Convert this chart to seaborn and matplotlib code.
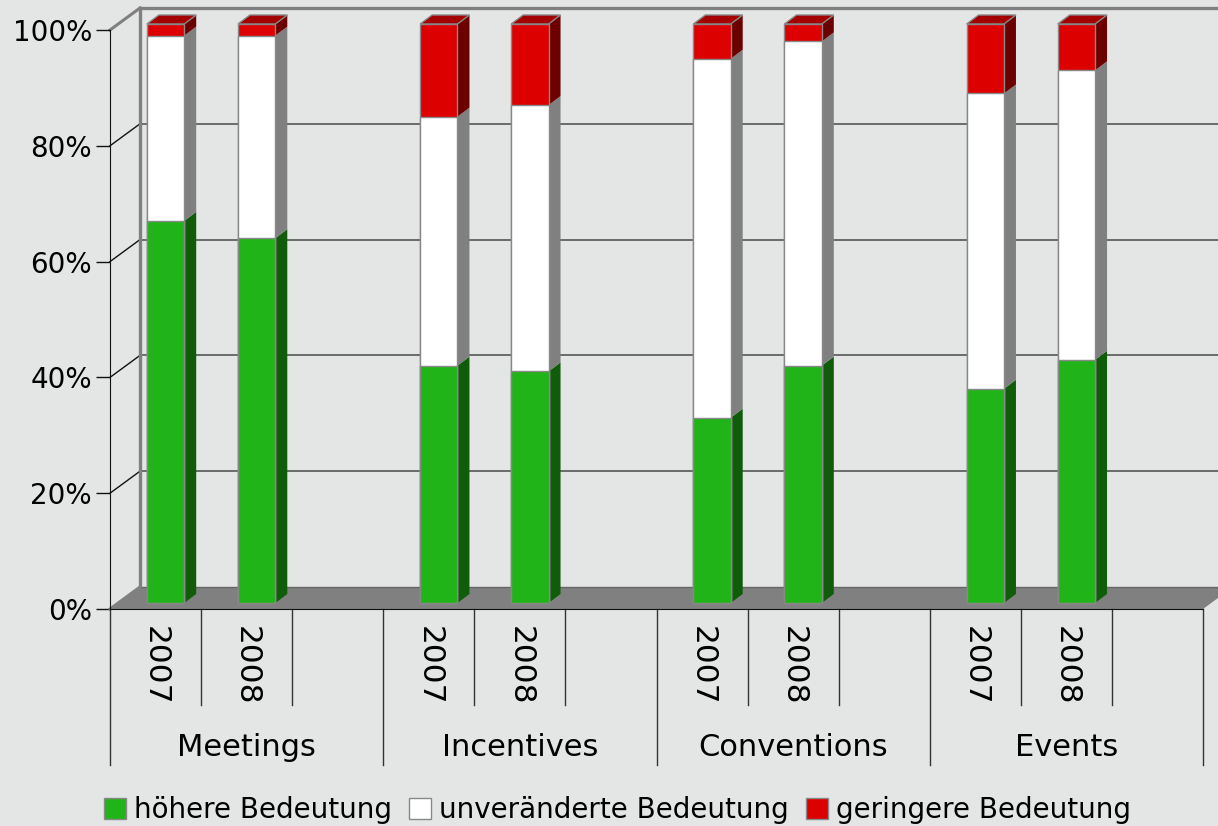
import matplotlib
matplotlib.use("Agg")
import matplotlib.pyplot as plt
from matplotlib.patches import Patch, Polygon
import seaborn as sns
import pandas as pd

# ---- data ----
categories = ["Meetings", "Incentives", "Conventions", "Events"]
years = ["2007", "2008"]
series_names = ["höhere Bedeutung", "unveränderte Bedeutung", "geringere Bedeutung"]
hoehere = [66, 63, 41, 40, 32, 41, 37, 42]
unveraendert = [32, 35, 43, 46, 62, 56, 51, 50]
geringere = [2, 2, 16, 14, 6, 3, 12, 8]
y_ticks = [0, 20, 40, 60, 80, 100]
y_labels = ["0%", "20%", "40%", "60%", "80%", "100%"]

front_colors = {"höhere Bedeutung": "#20b418", "unveränderte Bedeutung": "#ffffff",
                "geringere Bedeutung": "#dd0000"}
side_colors = ["#105c0b", "#808080", "#6c0000"]
top_color = "#a30000"
BG = "#e4e6e5"

plt.rcParams["font.family"] = ["DejaVu Sans"]

W, H = 1218, 826
fig = plt.figure(figsize=(W / 100, H / 100), dpi=100, facecolor=BG)
ax_l, ax_r, ax_t, ax_b = 110, 1203, 30, 609
ax = fig.add_axes([ax_l / W, (H - ax_b) / H, (ax_r - ax_l) / W, (ax_b - ax_t) / H])
ax.set_facecolor(BG)

# slots: 3 per category (third empty)
slots = []
for c in categories:
    slots += [f"{c}|2007", f"{c}|2008", f"{c}|gap"]

rows = []
bars = []
i = 0
for c in categories:
    for y in years:
        g, w, r = hoehere[i], unveraendert[i], geringere[i]
        slot = f"{c}|{y}"
        rows.append((slot, "geringere Bedeutung", g + w + r))
        rows.append((slot, "unveränderte Bedeutung", g + w))
        rows.append((slot, "höhere Bedeutung", g))
        bars.append((slots.index(slot), y, [0, g, g + w, g + w + r]))
        i += 1
df = pd.DataFrame(rows, columns=["slot", "series", "cum"])

BW = 0.41
sns.barplot(data=df, x="slot", y="cum", hue="series",
            hue_order=["geringere Bedeutung", "unveränderte Bedeutung", "höhere Bedeutung"],
            order=slots, palette=front_colors, dodge=False, width=BW, saturation=1,
            edgecolor="#888888", linewidth=1, legend=False, ax=ax)

ax.set_xlim(-0.5, 11.5)
ax.set_ylim(0, 100)
px_x = (ax_r - ax_l) / 12.0
px_y = (ax_b - ax_t) / 100.0

def dx(p):
    return p / px_x

def dy(p):
    return p / px_y

# bar front shift (bars sit inside the depth)
bx, by = dx(10), dy(6)
for p in ax.patches:
    p.set_x(p.get_x() + bx)
    p.set_y(p.get_y() + by)
    p.set_clip_on(False)
    p.set_zorder(6)

# 3D sides / tops of bars
sdx, sdy = dx(12), dy(9)
for pos, yr, cum in bars:
    xl = pos - BW / 2 + bx
    xr = pos + BW / 2 + bx
    for k in range(3):
        lo, hi = cum[k] + by, cum[k + 1] + by
        if hi - lo <= 0:
            continue
        ax.add_patch(Polygon([(xr, lo), (xr + sdx, lo + sdy), (xr + sdx, hi + sdy), (xr, hi)],
                             closed=True, facecolor=side_colors[k], edgecolor="none",
                             clip_on=False, zorder=5))
    top = cum[3] + by
    ax.add_patch(Polygon([(xl, top), (xr, top), (xr + sdx, top + sdy), (xl + sdx, top + sdy)],
                         closed=True, facecolor=top_color, edgecolor="#888888", lw=1,
                         clip_on=False, zorder=5))

# walls / floor
wx, wy = dx(30), dy(22)
ax.add_patch(Polygon([(-0.5, 0), (11.5, 0), (11.5 + wx, wy), (-0.5 + wx, wy)], closed=True,
                     facecolor="#808080", edgecolor="none", clip_on=False, zorder=1))
ax.plot([-0.5 + wx, 13], [wy, wy], color="#666666", lw=1, clip_on=False, zorder=1.5)
for v in y_ticks[1:-1]:
    ax.plot([-0.5 + wx, 13], [v + wy, v + wy], color="#555555", lw=1.2, clip_on=False, zorder=1.2)
    ax.plot([-0.5, -0.5 + wx], [v, v + wy], color="#111111", lw=1, clip_on=False, zorder=1.2)
ax.plot([-0.5 + wx, 13], [100 + wy, 100 + wy], color="#808080", lw=2.4, clip_on=False, zorder=1.3)
ax.plot([-0.5, -0.5 + wx], [100, 100 + wy], color="#808080", lw=2.2, clip_on=False, zorder=1.3)
ax.plot([-0.5, -0.5 + wx], [0, wy], color="#808080", lw=2.2, clip_on=False, zorder=1.6)
ax.plot([-0.5 + wx, -0.5 + wx], [wy, 100 + wy], color="#808080", lw=2.4, clip_on=False, zorder=1.3)

# axes styling
for s in ["top", "right"]:
    ax.spines[s].set_visible(False)
ax.spines["left"].set_color("#111111")
ax.spines["bottom"].set_color("#111111")
ax.spines["left"].set_zorder(3)
ax.spines["bottom"].set_zorder(3)
ax.set_yticks(y_ticks)
ax.set_yticklabels(y_labels)
ax.tick_params(axis="y", direction="out", length=10, width=1, color="#111111",
               labelsize=20, pad=3)
ax.set_xticks([])
ax.set_xlabel("")
ax.set_ylabel("")

# category table below the axis
xtr = ax.get_xaxis_transform()
axh = ax_b - ax_t
for k in range(13):
    ylen = 156 if k % 3 == 0 else 96
    ax.plot([k - 0.5, k - 0.5], [0, -ylen / axh], transform=xtr, color="#333333", lw=1,
            clip_on=False)
for pos, yr, cum in bars:
    ax.text(pos, -57 / axh, yr, rotation=270, ha="center", va="center", fontsize=22.5,
            transform=xtr)
for g, c in enumerate(categories):
    ax.text(3 * g + 1, -139 / axh, c, ha="center", va="center", fontsize=22, transform=xtr)

# legend
handles = [Patch(facecolor=front_colors[n], edgecolor="#888888", lw=1) for n in series_names]
fig.legend(handles, series_names, loc="center", bbox_to_anchor=(0.507, 0.019), ncol=3,
           frameon=False, fontsize=20, handlelength=0.8, handleheight=0.8,
           handletextpad=0.3, columnspacing=0.6, borderaxespad=0, borderpad=0)

fig.savefig("out.png", dpi=100, facecolor=BG)
